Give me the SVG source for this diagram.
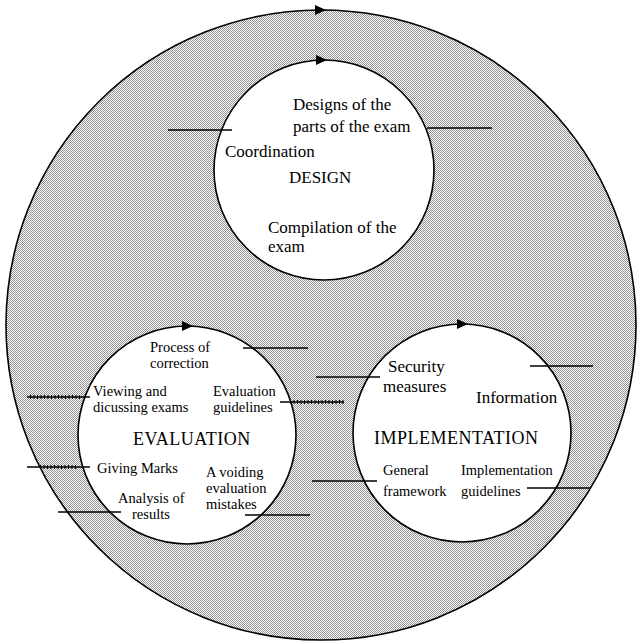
<svg xmlns="http://www.w3.org/2000/svg" width="638" height="642" viewBox="0 0 638 642">
<defs>
<pattern id="dots" width="2" height="2" patternUnits="userSpaceOnUse">
<rect width="2" height="2" fill="#ffffff"/>
<rect x="0" y="0" width="1" height="1" fill="#909090"/>
<rect x="1" y="1" width="1" height="1" fill="#909090"/>
</pattern>
</defs>
<style>
.ring{stroke:#000;stroke-width:1.6}
.inner{fill:#fff;stroke:#000;stroke-width:1.6}
.t{font-family:"Liberation Serif","Times New Roman",serif;fill:#000}
.s{font-size:14.5px}
.m{font-size:17px}
.big{font-size:18px;letter-spacing:0.5px}
.ln{stroke:#000;stroke-width:1.3;fill:none}
.tick{stroke:#000;stroke-width:4;stroke-dasharray:1 2.5;fill:none}
.ah{fill:#000}
</style>
<rect width="638" height="642" fill="#fff"/>
<g id="cycle">
<circle class="ring" cx="321" cy="325" r="315" fill="url(#dots)"/>
<path class="ah" d="M315,5 L326,10 L315,15 Z"/>
</g>
<g id="design">
<circle class="inner" cx="324" cy="170" r="110"/>
<path class="ah" d="M316,55 L327,60 L316,65 Z"/>
<text class="t m" x="293" y="110">Designs of the</text>
<text class="t m" x="293" y="132">parts of the exam</text>
<text class="t m" x="225" y="157">Coordination</text>
<text class="t m" x="289" y="183">DESIGN</text>
<text class="t m" x="268" y="233">Compilation of the</text>
<text class="t m" x="268" y="252">exam</text>
</g>
<g id="evaluation">
<circle class="inner" cx="187" cy="435" r="109"/>
<path class="ah" d="M182,321 L193,326 L182,331 Z"/>
<text class="t s" x="150" y="352">Process of</text>
<text class="t s" x="150" y="368">correction</text>
<text class="t s" x="93" y="396">Viewing and</text>
<text class="t s" x="93" y="412">dicussing exams</text>
<text class="t s" x="213" y="396">Evaluation</text>
<text class="t s" x="213" y="412">guidelines</text>
<text class="t big" x="133" y="445">EVALUATION</text>
<text class="t s" x="97" y="473">Giving Marks</text>
<text class="t s" x="206" y="477">A voiding</text>
<text class="t s" x="206" y="493">evaluation</text>
<text class="t s" x="206" y="509">mistakes</text>
<text class="t s" x="118" y="503">Analysis of</text>
<text class="t s" x="132" y="519">results</text>
</g>
<g id="implementation">
<circle class="inner" cx="462" cy="433" r="109"/>
<path class="ah" d="M457,319 L468,324 L457,329 Z"/>
<text class="t m" x="388" y="372">Security</text>
<text class="t m" x="383" y="392">measures</text>
<text class="t m" x="476" y="403">Information</text>
<text class="t big" x="374" y="444">IMPLEMENTATION</text>
<text class="t s" x="383" y="475">General</text>
<text class="t s" x="383" y="496">framework</text>
<text class="t s" x="461" y="475">Implementation</text>
<text class="t s" x="461" y="496">guidelines</text>
</g>
<g id="connectors">
<line class="ln" x1="168" y1="130" x2="232" y2="130"/>
<line class="ln" x1="427" y1="128" x2="492" y2="128"/>
<line class="ln" x1="243" y1="348" x2="308" y2="348"/>
<line class="ln" x1="27" y1="397" x2="90" y2="397"/>
<line class="tick" x1="30" y1="397" x2="82" y2="397"/>
<line class="ln" x1="280" y1="402" x2="344" y2="402"/>
<line class="tick" x1="290" y1="402" x2="344" y2="402"/>
<line class="ln" x1="27" y1="467" x2="90" y2="467"/>
<line class="tick" x1="40" y1="467" x2="78" y2="467"/>
<line class="ln" x1="58" y1="512" x2="121" y2="512"/>
<line class="ln" x1="245" y1="515" x2="310" y2="515"/>
<line class="ln" x1="316" y1="377" x2="380" y2="377"/>
<line class="ln" x1="530" y1="366" x2="593" y2="366"/>
<line class="ln" x1="312" y1="481" x2="377" y2="481"/>
<line class="ln" x1="527" y1="488" x2="590" y2="488"/>
</g>
</svg>
